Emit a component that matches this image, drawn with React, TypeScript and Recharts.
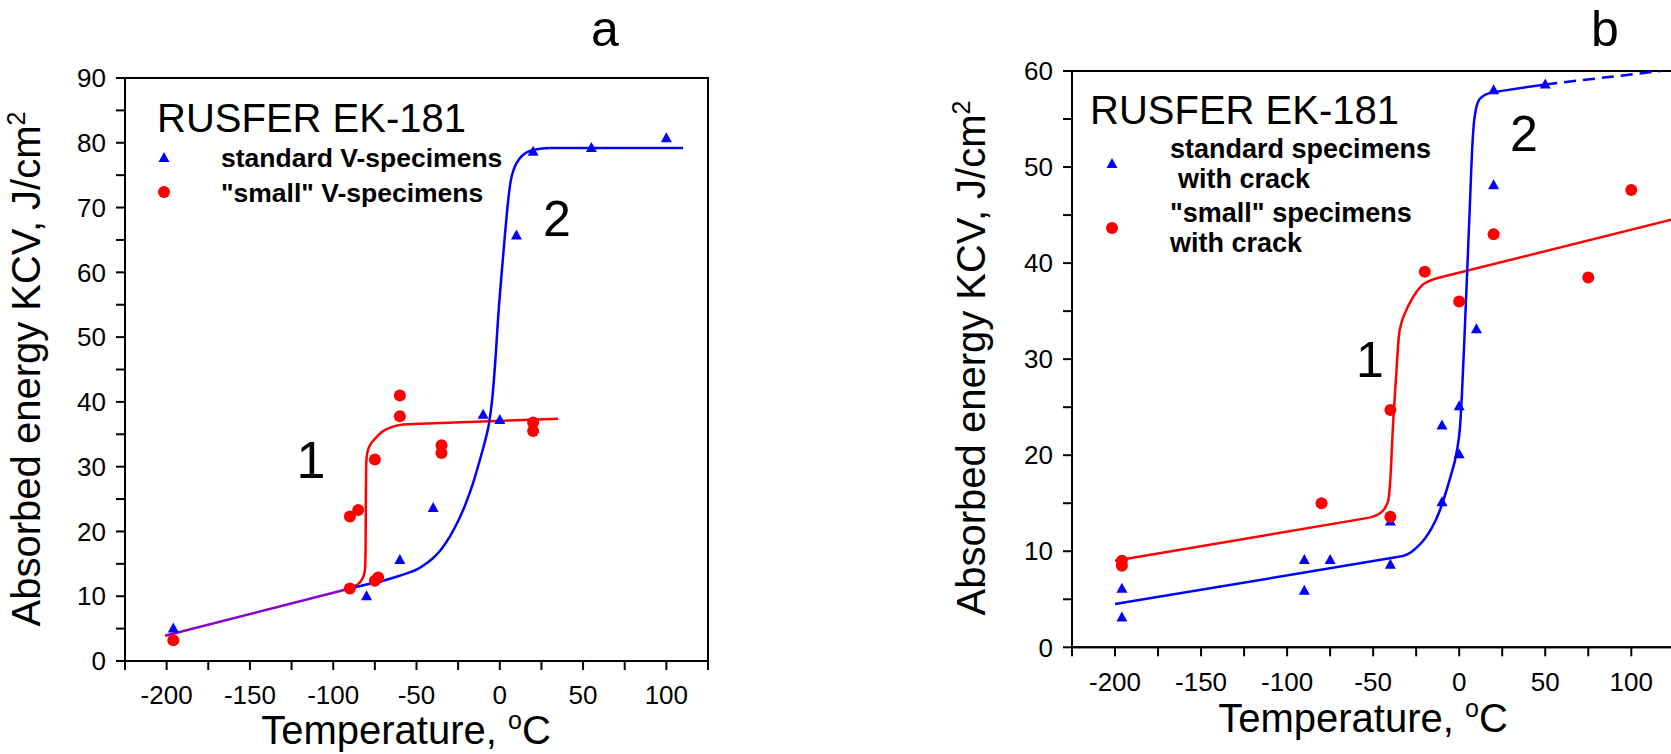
import { ComposedChart, Scatter, Line, XAxis, YAxis, ReferenceArea } from "recharts";

type Pt = { x: number; y: number };

const FONT = "'Liberation Sans', Arial, sans-serif";

// axis ticks (°C and J/cm2)
const tempTicks = [-225, -200, -175, -150, -125, -100, -75, -50, -25, 0, 25, 50, 75, 100, 125];
const tempLabels = [-200, -150, -100, -50, 0, 50, 100];
const kcvTicksA = [0, 5, 10, 15, 20, 25, 30, 35, 40, 45, 50, 55, 60, 65, 70, 75, 80, 85, 90];
const kcvLabelsA = [0, 10, 20, 30, 40, 50, 60, 70, 80, 90];
const kcvTicksB = [0, 5, 10, 15, 20, 25, 30, 35, 40, 45, 50, 55, 60];
const kcvLabelsB = [0, 10, 20, 30, 40, 50, 60];

// panel a: V-notch specimens
const standardA: Pt[] = [
  { x: -196, y: 5.0 }, { x: -80, y: 10.0 }, { x: -60, y: 15.6 }, { x: -40, y: 23.6 },
  { x: -10, y: 38.0 }, { x: 0, y: 37.2 }, { x: 10, y: 65.7 }, { x: 20, y: 78.6 },
  { x: 55, y: 79.2 }, { x: 100, y: 80.7 },
];
const smallA: Pt[] = [
  { x: -196, y: 3.2 }, { x: -90, y: 22.3 }, { x: -85, y: 23.3 }, { x: -90, y: 11.2 },
  { x: -75, y: 31.1 }, { x: -75, y: 12.4 }, { x: -73, y: 12.9 }, { x: -60, y: 41.0 },
  { x: -60, y: 37.8 }, { x: -35, y: 33.3 }, { x: -35, y: 32.1 }, { x: 20, y: 36.8 },
  { x: 20, y: 35.5 },
];
const commonFitA: Pt[] = [{ x: -201, y: 3.9 }, { x: -90, y: 11.2 }];
const smallFitA: Pt[] = [
  { x: -90, y: 11.2 }, { x: -86, y: 11.7 }, { x: -83.5, y: 12.3 }, { x: -82, y: 13.0 },
  { x: -81, y: 14.0 }, { x: -80.6, y: 16.5 }, { x: -80.4, y: 25 }, { x: -80.2, y: 30.5 },
  { x: -79.5, y: 32.2 }, { x: -77.5, y: 33.5 }, { x: -75, y: 34.3 }, { x: -71, y: 35.3 },
  { x: -65, y: 36.1 }, { x: -58, y: 36.5 }, { x: -52, y: 36.6 },
];
const smallTailA: Pt[] = [{ x: -52, y: 36.6 }, { x: 35, y: 37.4 }];
const standardFitA: Pt[] = [
  { x: -90, y: 11.2 }, { x: -80, y: 11.8 }, { x: -70, y: 12.4 }, { x: -62, y: 13.0 },
  { x: -55, y: 13.6 }, { x: -50, y: 14.1 }, { x: -45, y: 14.9 }, { x: -40, y: 15.9 },
  { x: -35, y: 17.3 }, { x: -30, y: 19.2 }, { x: -25, y: 21.6 }, { x: -20, y: 24.6 },
  { x: -16, y: 27.5 }, { x: -12, y: 31.0 }, { x: -9, y: 33.8 }, { x: -6.5, y: 36.6 },
  { x: -4.5, y: 40.5 }, { x: -2.5, y: 47 }, { x: -1, y: 53 }, { x: 1, y: 59.5 },
  { x: 3, y: 65.5 }, { x: 5, y: 71 }, { x: 6.5, y: 74 }, { x: 9, y: 76.3 },
  { x: 12, y: 77.6 }, { x: 16, y: 78.5 }, { x: 22, y: 79.0 }, { x: 30, y: 79.2 },
];
const standardTailA: Pt[] = [{ x: 30, y: 79.2 }, { x: 110, y: 79.2 }];

// panel b: specimens with crack
const standardB: Pt[] = [
  { x: -196, y: 6.1 }, { x: -196, y: 3.1 }, { x: -90, y: 9.1 }, { x: -90, y: 5.9 },
  { x: -75, y: 9.1 }, { x: -40, y: 13.1 }, { x: -40, y: 8.6 }, { x: -10, y: 23.1 },
  { x: -10, y: 15.1 }, { x: 0, y: 25.1 }, { x: 0, y: 20.1 }, { x: 10, y: 33.1 },
  { x: 20, y: 48.1 }, { x: 20, y: 58.0 }, { x: 50, y: 58.6 },
];
const smallB: Pt[] = [
  { x: -196, y: 9.0 }, { x: -196, y: 8.5 }, { x: -80, y: 15.0 }, { x: -40, y: 24.7 },
  { x: -40, y: 13.6 }, { x: -20, y: 39.1 }, { x: 0, y: 36.0 }, { x: 20, y: 43.0 },
  { x: 75, y: 38.5 }, { x: 100, y: 47.6 },
];
const smallLowB: Pt[] = [{ x: -200, y: 9.0 }, { x: -52, y: 13.5 }];
const smallFitB: Pt[] = [
  { x: -52, y: 13.5 }, { x: -48, y: 13.75 }, { x: -45, y: 14.1 }, { x: -42.5, y: 14.7 },
  { x: -41, y: 15.5 }, { x: -40, y: 17.5 }, { x: -38.5, y: 23 }, { x: -36.8, y: 27.8 },
  { x: -35, y: 32.5 }, { x: -33.5, y: 33.8 }, { x: -31, y: 35 }, { x: -27, y: 36.4 },
  { x: -21.5, y: 37.7 }, { x: -15, y: 38.3 }, { x: -9, y: 38.6 },
];
const smallHighB: Pt[] = [{ x: -9, y: 38.6 }, { x: 125, y: 44.6 }];
const standardLowB: Pt[] = [{ x: -200, y: 4.5 }, { x: -36, y: 9.4 }];
const standardFitB: Pt[] = [
  { x: -36, y: 9.4 }, { x: -32, y: 9.55 }, { x: -28, y: 9.9 }, { x: -24, y: 10.5 },
  { x: -20, y: 11.3 }, { x: -16, y: 12.4 }, { x: -12, y: 13.9 }, { x: -8.5, y: 15.7 },
  { x: -5, y: 17.8 }, { x: -1.5, y: 20.3 }, { x: 0.5, y: 23 }, { x: 1.6, y: 26.4 },
  { x: 3, y: 32 }, { x: 4.7, y: 39.4 }, { x: 6.2, y: 46 }, { x: 7.7, y: 52.4 },
  { x: 8.5, y: 54.5 }, { x: 9.3, y: 55.6 }, { x: 11, y: 56.8 }, { x: 14, y: 57.4 },
  { x: 20, y: 57.8 },
];
const standardHighB: Pt[] = [{ x: 20, y: 57.8 }, { x: 50, y: 58.6 }];
const standardExtrapB: Pt[] = [{ x: 50, y: 58.6 }, { x: 117, y: 60.0 }];

const BLUE = "#0000ff";
const RED = "#ff0000";
const PURPLE = "#8a00c8";

function Triangle(props: any) {
  const { cx, cy, fill } = props;
  if (cx == null || cy == null) return null;
  return <polygon points={`${cx},${cy - 6} ${cx - 5.5},${cy + 4} ${cx + 5.5},${cy + 4}`} fill={fill} />;
}

function Dot(props: any) {
  const { cx, cy, fill } = props;
  if (cx == null || cy == null) return null;
  return <circle cx={cx} cy={cy} r={6} fill={fill} />;
}

interface Curve {
  data: Pt[];
  color: string;
  smooth?: boolean;
  dash?: string;
}

interface PanelProps {
  width: number;
  margin: { top: number; right: number; bottom: number; left: number };
  yMax: number;
  yTicks: number[];
  yLabels: number[];
  standard: Pt[];
  small: Pt[];
  curves: Curve[];
}

function Panel({ width, margin, yMax, yTicks, yLabels, standard, small, curves }: PanelProps) {
  const axisStyle = { stroke: "#000", strokeWidth: 2 };
  const tickStyle = { fill: "#000", fontSize: 26, fontFamily: FONT };
  return (
    <ComposedChart width={width} height={754} margin={margin}>
      <XAxis
        type="number"
        dataKey="x"
        domain={[-225, 125]}
        allowDataOverflow
        ticks={tempTicks}
        interval={0}
        height={80}
        tickSize={9}
        tickMargin={16}
        axisLine={axisStyle}
        tickLine={axisStyle}
        tick={tickStyle}
        tickFormatter={(v: number) => (tempLabels.includes(v) ? String(v) : "")}
      />
      <YAxis
        type="number"
        dataKey="y"
        domain={[0, yMax]}
        allowDataOverflow
        ticks={yTicks}
        interval={0}
        width={100}
        tickSize={9}
        tickMargin={10}
        axisLine={axisStyle}
        tickLine={axisStyle}
        tick={tickStyle}
        tickFormatter={(v: number) => (yLabels.includes(v) ? String(v) : "")}
      />
      <ReferenceArea x1={-225} x2={125} y1={0} y2={yMax} fill="none" fillOpacity={0} stroke="#000" strokeWidth={2} strokeOpacity={1} />
      {curves.map((c, i) => (
        <Line
          key={i}
          data={c.data}
          dataKey="y"
          type={c.smooth ? "monotone" : "linear"}
          stroke={c.color}
          strokeWidth={2.5}
          strokeDasharray={c.dash}
          dot={false}
          activeDot={false}
          isAnimationActive={false}
        />
      ))}
      <Scatter data={standard} fill={BLUE} shape={(p: any) => <Triangle {...p} />} isAnimationActive={false} />
      <Scatter data={small} fill={RED} shape={(p: any) => <Dot {...p} />} isAnimationActive={false} />
    </ComposedChart>
  );
}

function TitleX({ x, y }: { x: number; y: number }) {
  return (
    <text x={x} y={y} textAnchor="middle" fontSize={40} fontFamily={FONT}>
      Temperature, <tspan fontSize={25} dy={-15}>o</tspan>
      <tspan dy={15}>C</tspan>
    </text>
  );
}

function TitleY({ x, y }: { x: number; y: number }) {
  return (
    <text x={x} y={y} transform={`rotate(-90 ${x} ${y})`} textAnchor="middle" fontSize={40} fontFamily={FONT}>
      Absorbed energy KCV, J/cm<tspan fontSize={25} dy={-15}>2</tspan>
    </text>
  );
}

export default function App() {
  return (
    <div style={{ position: "absolute", left: 0, top: 0, width: 1671, height: 754, overflow: "hidden", background: "#fff" }}>
      <div style={{ position: "absolute", left: 0, top: 0 }}>
        <Panel
          width={720}
          margin={{ top: 78, right: 12, bottom: 13, left: 25 }}
          yMax={90}
          yTicks={kcvTicksA}
          yLabels={kcvLabelsA}
          standard={standardA}
          small={smallA}
          curves={[
            { data: smallFitA, color: RED, smooth: true },
            { data: smallTailA, color: RED },
            { data: standardFitA, color: BLUE, smooth: true },
            { data: standardTailA, color: BLUE },
            { data: commonFitA, color: PURPLE },
          ]}
        />
      </div>
      <div style={{ position: "absolute", left: 840, top: 0 }}>
        <Panel
          width={860}
          margin={{ top: 71, right: 25.7, bottom: 26.7, left: 132 }}
          yMax={60}
          yTicks={kcvTicksB}
          yLabels={kcvLabelsB}
          standard={standardB}
          small={smallB}
          curves={[
            { data: smallLowB, color: RED },
            { data: smallFitB, color: RED, smooth: true },
            { data: smallHighB, color: RED },
            { data: standardLowB, color: BLUE },
            { data: standardFitB, color: BLUE, smooth: true },
            { data: standardHighB, color: BLUE },
            { data: standardExtrapB, color: BLUE, dash: "12 7" },
          ]}
        />
      </div>
      <svg width={1671} height={754} style={{ position: "absolute", left: 0, top: 0, pointerEvents: "none" }}>
        <g fontFamily={FONT} fill="#000">
          <text x={605} y={46} textAnchor="middle" fontSize={50}>a</text>
          <text x={1605} y={46} textAnchor="middle" fontSize={50}>b</text>

          <text x={157} y={132} fontSize={40}>RUSFER EK-181</text>
          <Triangle cx={164} cy={158} fill={BLUE} />
          <Dot cx={164} cy={192} fill={RED} />
          <text x={221} y={167} fontSize={26.5} fontWeight="bold">standard V-specimens</text>
          <text x={221} y={202} fontSize={26.5} fontWeight="bold">"small" V-specimens</text>
          <text x={311} y={478} textAnchor="middle" fontSize={52}>1</text>
          <text x={557} y={236} textAnchor="middle" fontSize={50}>2</text>
          <TitleX x={406} y={744} />
          <TitleY x={40} y={369} />

          <text x={1090} y={124} fontSize={40}>RUSFER EK-181</text>
          <Triangle cx={1112} cy={164} fill={BLUE} />
          <Dot cx={1112} cy={228} fill={RED} />
          <text x={1170} y={158} fontSize={27} fontWeight="bold">standard specimens</text>
          <text x={1178} y={188} fontSize={27} fontWeight="bold">with crack</text>
          <text x={1170} y={222} fontSize={27} fontWeight="bold">"small" specimens</text>
          <text x={1170} y={252} fontSize={27} fontWeight="bold">with crack</text>
          <text x={1370} y={377} textAnchor="middle" fontSize={50}>1</text>
          <text x={1524} y={151} textAnchor="middle" fontSize={50}>2</text>
          <TitleX x={1363} y={732} />
          <TitleY x={985} y={358} />
        </g>
      </svg>
    </div>
  );
}
